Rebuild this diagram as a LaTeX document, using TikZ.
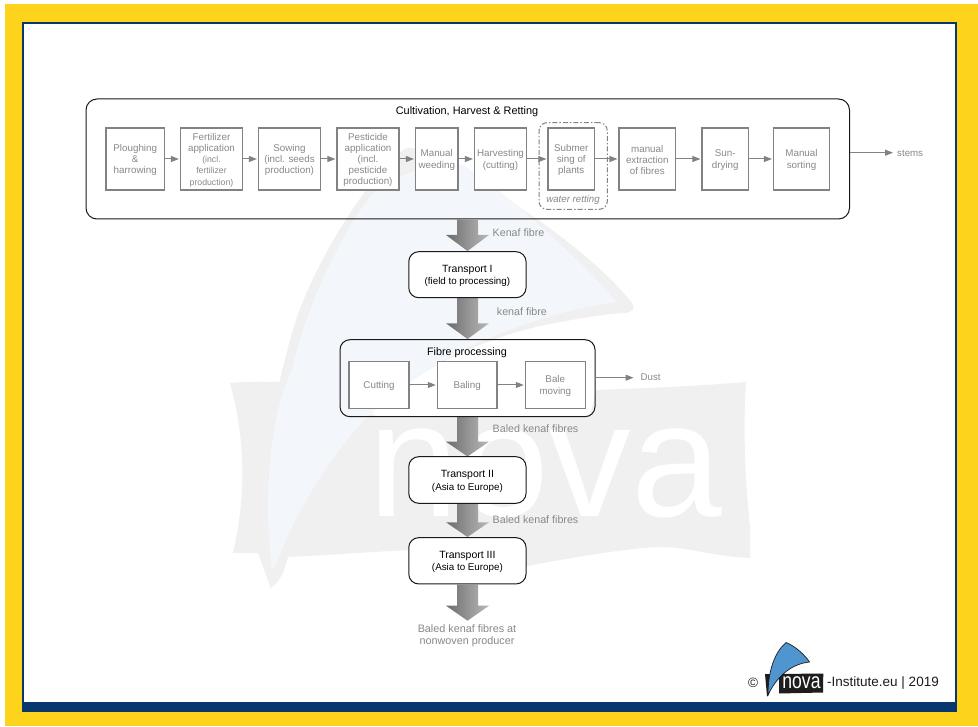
\documentclass[tikz,border=0pt]{standalone}
\usepackage{fontspec}
\setmainfont{Liberation Sans}
\usetikzlibrary{arrows.meta,positioning}
\definecolor{yel}{HTML}{FDD31C}
\definecolor{navy}{HTML}{08366F}
\definecolor{wmgray}{HTML}{F0F0F0}
\definecolor{wmblue}{HTML}{F3F7FC}
\definecolor{txtgray}{HTML}{888888}
\definecolor{boxgray}{HTML}{828282}
\definecolor{lblue}{HTML}{4F95CF}
\definecolor{logoblack}{HTML}{1E1C1D}
\newcommand{\fs}[1]{\fontsize{#1}{11.2}\selectfont}
\newcommand{\smalltxt}{\fontsize{8.7}{11.2}\selectfont}
\tikzset{
  x=1pt,y=-1pt,
  stepbox/.style={draw=boxgray,line width=1.1pt,fill=white,inner sep=0pt},
  steptext/.style={text=txtgray,align=center,inner sep=0pt,font=\fs{9.8},yshift=-1pt},
  groupbox/.style={draw=black!90,line width=1pt,rounded corners=11pt},
  transportbox/.style={draw=black!90,line width=1pt,fill=white,rounded corners=10pt,inner sep=0pt},
  transporttext/.style={align=center,inner sep=0pt,yshift=-1.2pt},
  flow/.style={draw=boxgray,line width=1pt,-{Triangle[length=8pt,width=6pt]},shorten >=1pt},
  lbl/.style={text=txtgray,font=\fs{10.7},inner sep=0pt,yshift=-1pt},
  bigarrow/.style={draw=none,left color=black!58,right color=black!28,middle color=black!42},
}
\newcommand{\pbox}[7][]{\node[#7,minimum width=#4pt-#2pt,minimum height=#5pt-#3pt,#1] (#6) at ({(#2+#4)/2},{(#3+#5)/2}) {};}
\newcommand{\bigarr}[3]{%
  \path[bigarrow] (457,#1) -- (478,#1) -- (478,#2) -- (489,#2) -- (467.5,#3) -- (446,#2) -- (457,#2) -- cycle;}
\begin{document}
\begin{tikzpicture}
\useasboundingbox (0,0) rectangle (978,727);
% frame
\fill[white] (0,0) rectangle (978,727);
\fill[yel] (5,4) rectangle (978,726);
\fill[navy] (22,22) rectangle (957,712);
\fill[white] (24,24) rectangle (955,702);
% watermark flag
\fill[wmgray] (230,383) .. controls (255,381) and (270,382) .. (280,382)
  -- (377,416) -- (590,416) -- (596,390)
  .. controls (650,388) and (700,386) .. (746,382)
  .. controls (743,430) and (745,480) .. (750,527) -- (750,558)
  .. controls (710,556) and (690,547) .. (659,547)
  .. controls (620,549) and (570,558) .. (527,566)
  .. controls (490,556) and (450,548) .. (410,550)
  .. controls (370,552) and (330,555) .. (288,557)
  .. controls (284,572) and (280,582) .. (270.7,588)
  -- (258,553) -- (232.7,553)
  .. controls (246,500) and (246,440) .. (230,383) -- cycle;
% watermark sail
\fill[wmgray] (270.7,588) .. controls (258,520) and (262,430) .. (296,320)
  .. controls (320,250) and (375,170) .. (403,150)
  .. controls (408,146) and (415,148) .. (425,153)
  .. controls (500,190) and (590,250) .. (632,303)
  .. controls (636,309) and (632,312) .. (625,313)
  .. controls (600,314) and (560,322) .. (540,326)
  .. controls (480,340) and (420,368) .. (377,408)
  .. controls (340,440) and (295,510) .. (275,567) -- cycle;
\fill[wmblue] (271.7,568) .. controls (264,500) and (268,420) .. (292,370)
  .. controls (305,310) and (340,235) .. (370,197)
  .. controls (390,175) and (440,160) .. (463,165)
  .. controls (510,195) and (580,260) .. (617,302)
  .. controls (540,312) and (440,350) .. (377,408)
  .. controls (340,440) and (295,510) .. (275,567) -- cycle;
\node[text=white,font=\fontsize{163}{163}\selectfont,anchor=base,inner sep=0pt,xscale=1,transform shape] (wmtext) at (545,516) {nova};
% cultivation group
\node[groupbox,minimum width=763.5pt,minimum height=120pt,inner sep=0pt] (cult) at (467.75,159) {};
\node[font=\fs{10.9},inner sep=0pt,yshift=-1.5pt] (culttitle) at (467,110) {Cultivation, Harvest \& Retting};
\pbox{539}{122.7}{607.3}{209.3}{ret}{draw=boxgray,line width=1pt,rounded corners=8pt,dash pattern=on 5pt off 2pt on 1.5pt off 2pt}
\pbox{106}{128}{164.5}{190}{s1}{stepbox}
\pbox{180.5}{128}{242.5}{190}{s2}{stepbox}
\pbox{258.5}{128}{320.5}{190}{s3}{stepbox}
\pbox{337}{128}{399}{190}{s4}{stepbox}
\pbox{415.5}{128}{458}{190}{s5}{stepbox}
\pbox{474.5}{128}{526.5}{190}{s6}{stepbox}
\pbox{548}{128}{594.5}{190}{s7}{stepbox}
\pbox{619}{128}{675.5}{190}{s8}{stepbox}
\pbox{702}{128}{748.5}{190}{s9}{stepbox}
\pbox{773.5}{128}{829.5}{190}{s10}{stepbox}
\node[steptext] (t1) at (s1) {Ploughing\\\&\\harrowing};
\node[steptext] (t2) at (s2) {Fertilizer\\application\\{\smalltxt(incl.}\\{\smalltxt fertilizer}\\{\smalltxt production)}};
\node[steptext] (t3) at (s3) {Sowing\\(incl. seeds\\production)};
\node[steptext] (t4) at (s4) {Pesticide\\application\\(incl.\\pesticide\\production)};
\node[steptext] (t5) at (s5) {Manual\\weeding};
\node[steptext] (t6) at (s6) {Harvesting\\(cutting)};
\node[steptext] (t7) at (s7) {Submer\\sing of\\plants};
\node[steptext] (t8) at (s8) {manual\\extraction\\of fibres};
\node[steptext] (t9) at (s9) {Sun-\\drying};
\node[steptext] (t10) at (s10) {Manual\\sorting};
\node[text=txtgray,font=\fs{9.7}\itshape,inner sep=0pt,yshift=-0.8pt] (rettxt) at (573,199) {water retting};
\draw[flow] (s1) -- (s2);
\draw[flow] (s2) -- (s3);
\draw[flow] (s3) -- (s4);
\draw[flow] (s4) -- (s5);
\draw[flow] (s5) -- (s6);
\draw[flow] (s6) -- (s7);
\draw[flow] (s7) -- (s8);
\draw[flow] (s8) -- (s9);
\draw[flow] (s9) -- (s10);
\coordinate (stemsL) at (849.5,152.7);
\node[anchor=west,text=txtgray,font=\fs{9.7},inner sep=0pt,yshift=-1pt] (stems) at (897,152.7) {stems};
\coordinate (stemsR) at (894,152.7);
\draw[flow] (stemsL) -- (stemsR);
% big arrows
\bigarr{219.5}{235}{251}
\bigarr{298}{323.3}{339}
\bigarr{417}{441.7}{456.5}
\bigarr{503.5}{522.3}{537}
\bigarr{584.5}{605.7}{620.7}
% transport I
\node[transportbox,minimum width=117.3pt,minimum height=46pt] (tr1) at (467.4,274.7) {};
\node[transporttext] (tr1t) at (tr1) {\fs{10.5}Transport I\\[0.5pt]\fs{9.8}(field to processing)};
% fibre group
\node[groupbox,rounded corners=10pt,minimum width=255pt,minimum height=77pt,inner sep=0pt] (fibre) at (467.5,378.2) {};
\node[font=\fs{10.8},inner sep=0pt,yshift=-1.5pt] (fibtitle) at (467,351) {Fibre processing};
\pbox{349}{361.7}{409}{408.3}{f1}{stepbox}
\pbox{437.3}{361.7}{497}{408.3}{f2}{stepbox}
\pbox{525.3}{361.7}{585.3}{408.3}{f3}{stepbox}
\node[steptext] (ft1) at (f1) {Cutting};
\node[steptext] (ft2) at (f2) {Baling};
\node[steptext] (ft3) at (f3) {Bale\\moving};
\draw[flow] (f1) -- (f2);
\draw[flow] (f2) -- (f3);
\node[anchor=west,fill=white,text=txtgray,font=\fs{9.7},inner xsep=7.5pt,inner ysep=0pt,minimum height=16pt] (dust) at (633,377.7) {Dust};
\coordinate (dustL) at (595,377.7);
\coordinate (dustR) at (634.5,377.7);
\draw[flow] (dustL) -- (dustR);
% transport II, III
\node[transportbox,minimum width=117.3pt,minimum height=46.6pt] (tr2) at (467.4,480) {};
\node[transporttext] (tr2t) at (tr2) {\fs{10.5}Transport II\\[0.5pt]\fs{9.8}(Asia to Europe)};
\node[transportbox,minimum width=117.3pt,minimum height=46.3pt] (tr3) at (467.4,560.8) {};
\node[transporttext] (tr3t) at (tr3) {\fs{10.5}Transport III\\[0.5pt]\fs{9.8}(Asia to Europe)};
% labels
\node[lbl,anchor=west] (l1) at (492.5,232) {Kenaf fibre};
\node[lbl,anchor=west] (l2) at (496.7,310.5) {kenaf fibre};
\node[lbl,anchor=west] (l3) at (492.5,428) {Baled kenaf fibres};
\node[lbl,anchor=west] (l4) at (492.5,518.3) {Baled kenaf fibres};
\node[lbl,align=center,font=\fontsize{10.8}{12}\selectfont] (l5) at (467,634.5) {Baled kenaf fibres at\\nonwoven producer};
% footer
\node[text=logoblack,font=\fs{13.5},inner sep=0pt,yshift=-1pt] (copy) at (753,682) {©};
\fill[logoblack] (779,674) -- (823.3,673.5) -- (823,692.5) -- (779,693.5) -- cycle;
\fill[logoblack] (765,674) -- (771,674) -- (770,690) -- (768,696) -- (767,696) -- cycle;
\draw[logoblack,line width=0.7pt,fill=lblue] (768,695) .. controls (768,670) and (775,652) .. (786,642.5)
  .. controls (795,646) and (805,655) .. (809.5,662)
  .. controls (790,664) and (776,678) .. (768,695) -- cycle;
\node[text=white,font=\fontsize{22}{22}\selectfont,anchor=base,inner sep=0pt,xscale=.8,transform shape] (logotext) at (801.5,688.5) {nova};
\node[anchor=west,text=logoblack,font=\fs{13.5},inner sep=0pt,yshift=-1pt] (inst) at (827,682) {-Institute.eu | 2019};
\end{tikzpicture}
\end{document}
